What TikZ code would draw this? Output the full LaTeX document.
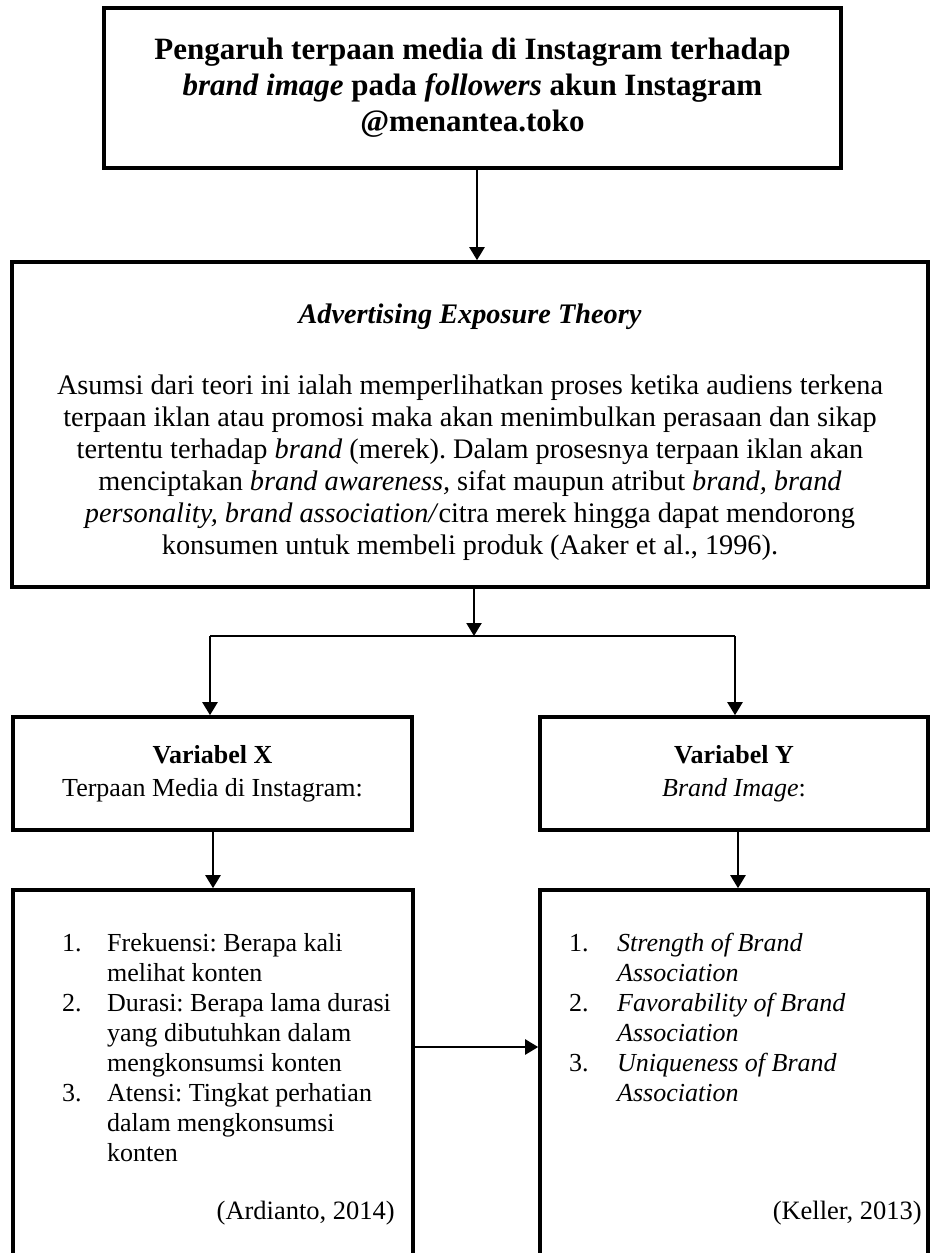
\documentclass[tikz,border=0pt]{standalone}
\usepackage{fontspec}
\setmainfont{Liberation Serif}
\usetikzlibrary{arrows.meta}
\usetikzlibrary{positioning}
\frenchspacing

\begin{document}
\begin{tikzpicture}[%
        x=1pt, y=-1pt,
        kotak/.style={rectangle, draw, line width=3.6pt, inner sep=0pt, align=center},
        panah/.style={line width=2.2pt, -{Triangle[length=13pt,width=15pt]}},
        teks/.style={inner sep=0pt, font=\fontsize{26}{30}\selectfont}
      ]
      \path [use as bounding box, clip] (0,0) rectangle (930,1253);
      \node [kotak] (judul) at (472.5,88) [minimum width=737pt, minimum height=160pt, font=\bfseries\fontsize{31}{36}\selectfont]
        {Pengaruh terpaan media di Instagram terhadap\\ \textit{brand image} pada \textit{followers} akun Instagram\\ @menantea.toko};
      \node [kotak] (teori) at (470,424.5) [minimum width=916pt, minimum height=325pt, font=\fontsize{28.3}{32}\selectfont]
        {\rule{0pt}{35pt}\textbf{\textit{Advertising Exposure Theory}}\\[39pt]
         Asumsi dari teori ini ialah memperlihatkan proses ketika audiens terkena\\
         terpaan iklan atau promosi maka akan menimbulkan perasaan dan sikap\\
         tertentu terhadap \textit{brand} (merek). Dalam prosesnya terpaan iklan akan\\
         menciptakan \textit{brand awareness,} sifat maupun atribut \textit{brand, brand}\\
         \textit{personality, brand association/}citra merek hingga dapat mendorong\\
         konsumen untuk membeli produk (Aaker et al., 1996).};
      \node [kotak] (varx) at (212.5,773.5) [minimum width=399pt, minimum height=113pt, font=\fontsize{26}{33}\selectfont]
        {\textbf{Variabel X}\\ Terpaan Media di Instagram:};
      \node [kotak] (vary) at (734,773.5) [minimum width=388pt, minimum height=113pt, font=\fontsize{26}{33}\selectfont]
        {\textbf{Variabel Y}\\ \textit{Brand Image}:};
      \node [kotak] (indx) at (213,1100) [minimum width=400pt, minimum height=420pt] {};
      \node [kotak] (indy) at (734,1100) [minimum width=388pt, minimum height=420pt] {};
      % isi indikator
      \node [teks, anchor=base west] (listx) at (62,951)
        {\begin{tabular}[t]{@{}p{45pt}@{}l@{}}
          1. & Frekuensi: Berapa kali\\
             & melihat konten\\
          2. & Durasi: Berapa lama durasi\\
             & yang dibutuhkan dalam\\
             & mengkonsumsi konten\\
          3. & Atensi: Tingkat perhatian\\
             & dalam mengkonsumsi\\
             & konten
         \end{tabular}};
      \node [teks, anchor=base west] (listy) at (569,951)
        {\begin{tabular}[t]{@{}p{48pt}@{}l@{}}
          1. & \textit{Strength of Brand}\\
             & \textit{Association}\\
          2. & \textit{Favorability of Brand}\\
             & \textit{Association}\\
          3. & \textit{Uniqueness of Brand}\\
             & \textit{Association}
         \end{tabular}};
      \node [teks, anchor=base east, font=\fontsize{26.5}{30}\selectfont] (citx) at (395,1219) {(Ardianto, 2014)};
      \node [teks, anchor=base east, font=\fontsize{26.5}{30}\selectfont] (city) at (922,1219) {(Keller, 2013)};
      % panah
      \coordinate (cabang) at (474,636);
      \coordinate (cabx) at (210,636);
      \coordinate (caby) at (735,636);
      \coordinate (tengah) at (0,1047);
      \draw [panah] (judul.south -| 477,0) -- (teori.north -| 477,0);
      \draw [panah] (teori.south -| cabang) -- (cabang);
      \draw [line width=2.2pt] (cabx) -- (caby);
      \draw [panah] (cabx) -- (varx.north -| cabx);
      \draw [panah] (caby) -- (vary.north -| caby);
      \draw [panah] (varx.south -| 213,0) -- (indx.north -| 213,0);
      \draw [panah] (vary.south -| 738,0) -- (indy.north -| 738,0);
      \draw [panah] (indx.east |- tengah) -- (indy.west |- tengah);
    \end{tikzpicture}
\end{document}
